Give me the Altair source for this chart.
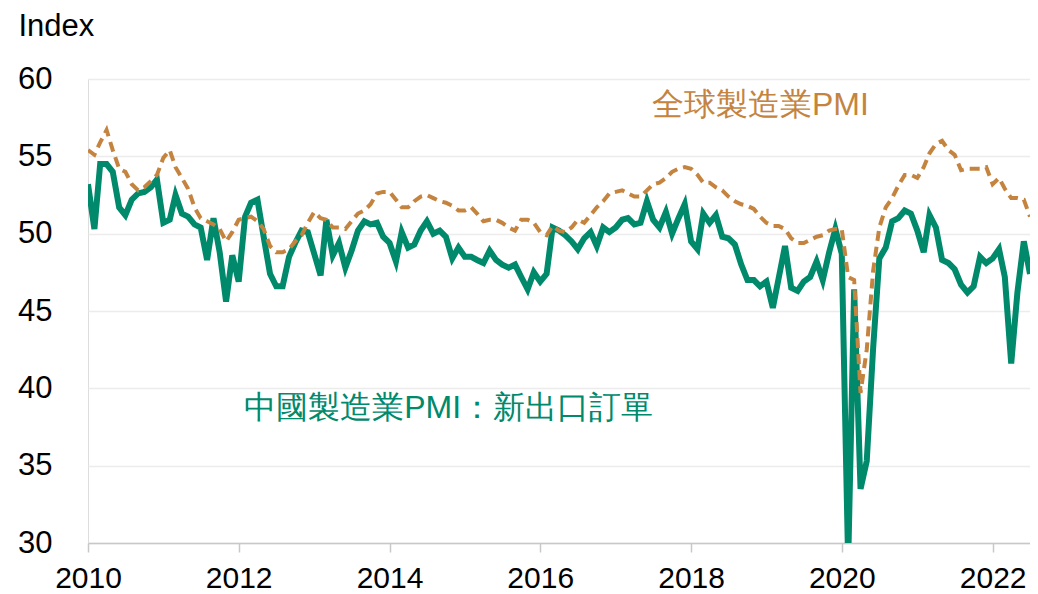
import altair as alt
import pandas as pd

# Monthly dates Jan 2010 .. Jul 2022
months = pd.date_range("2010-01-01", "2022-07-01", freq="MS").strftime("%Y-%m-%d").tolist()

# China manufacturing PMI: new export orders (green, solid)
china_2010 = [53.2, 50.3, 54.5, 54.5, 54.0, 51.7, 51.2, 52.2, 52.6, 52.7, 53.0, 53.5]
china_2011 = [50.7, 50.9, 52.5, 51.3, 51.1, 50.6, 50.4, 48.3, 51.0, 48.8, 45.6, 48.6]
china_2012 = [46.9, 51.1, 52.0, 52.2, 49.8, 47.4, 46.6, 46.6, 48.5, 49.4, 50.2, 50.1]
china_2013 = [48.7, 47.3, 50.9, 48.6, 49.4, 47.8, 48.9, 50.2, 50.8, 50.6, 50.7, 49.8]
china_2014 = [49.4, 48.2, 50.1, 49.1, 49.3, 50.2, 50.8, 50.0, 50.2, 49.8, 48.4, 49.1]
china_2015 = [48.5, 48.5, 48.3, 48.1, 48.9, 48.3, 48.0, 47.8, 48.0, 47.2, 46.4, 47.5]
china_2016 = [46.9, 47.4, 50.4, 50.2, 49.9, 49.5, 49.0, 49.7, 50.1, 49.2, 50.4, 50.1]
china_2017 = [50.4, 50.9, 51.0, 50.6, 50.7, 52.1, 50.9, 50.4, 51.4, 50.0, 51.0, 51.9]
china_2018 = [49.5, 49.0, 51.3, 50.7, 51.2, 49.8, 49.7, 49.3, 48.0, 47.0, 47.0, 46.6]
china_2019 = [46.9, 45.2, 47.1, 49.2, 46.5, 46.3, 46.9, 47.2, 48.2, 47.0, 48.8, 50.3]
china_2020 = [48.7, 28.7, 46.4, 33.5, 35.3, 42.6, 48.4, 49.1, 50.8, 51.0, 51.5, 51.3]
china_2021 = [50.2, 48.8, 51.2, 50.4, 48.3, 48.1, 47.7, 46.7, 46.2, 46.6, 48.5, 48.1]
china_2022 = [48.4, 49.0, 47.2, 41.6, 46.2, 49.5, 47.4]

# Global manufacturing PMI (orange, dashed)
global_2010 = [55.4, 55.1, 55.9, 56.7, 55.4, 54.2, 54.0, 53.2, 52.8, 53.0, 53.4, 53.8]
global_2011 = [54.9, 55.4, 54.3, 53.6, 52.9, 51.7, 51.0, 50.8, 50.6, 50.3, 49.5, 50.1]
global_2012 = [50.9, 51.0, 51.1, 50.8, 50.3, 49.2, 48.8, 48.8, 49.0, 49.5, 49.9, 50.7]
global_2013 = [51.4, 51.0, 50.9, 50.4, 50.4, 50.3, 50.8, 51.3, 51.5, 51.9, 52.6, 52.7]
global_2014 = [52.7, 52.2, 51.7, 51.7, 52.1, 52.4, 52.5, 52.3, 52.1, 52.0, 51.8, 51.5]
global_2015 = [51.5, 51.7, 51.3, 50.8, 50.9, 50.9, 50.7, 50.4, 50.2, 50.9, 50.9, 50.7]
global_2016 = [50.1, 49.9, 50.5, 50.2, 50.1, 50.4, 50.9, 50.7, 51.2, 51.7, 52.1, 52.6]
global_2017 = [52.7, 52.8, 52.6, 52.4, 52.4, 52.8, 53.2, 53.3, 53.6, 54.0, 54.2, 54.3]
global_2018 = [54.2, 53.8, 53.3, 53.3, 53.0, 52.8, 52.4, 52.1, 51.9, 51.8, 51.6, 51.1]
global_2019 = [50.7, 50.5, 50.5, 50.3, 49.7, 49.4, 49.4, 49.6, 49.8, 49.9, 50.2, 50.3]
global_2020 = [50.3, 47.2, 47.0, 39.7, 42.5, 47.6, 50.4, 51.7, 52.3, 53.1, 53.8, 53.8]
global_2021 = [53.6, 54.3, 55.2, 55.8, 56.0, 55.4, 55.1, 54.1, 54.2, 54.2, 54.2, 54.3]
global_2022 = [53.2, 53.6, 52.9, 52.3, 52.3, 52.2, 51.1]

china = (china_2010 + china_2011 + china_2012 + china_2013 + china_2014 + china_2015 +
         china_2016 + china_2017 + china_2018 + china_2019 + china_2020 + china_2021 + china_2022)
glob = (global_2010 + global_2011 + global_2012 + global_2013 + global_2014 + global_2015 +
        global_2016 + global_2017 + global_2018 + global_2019 + global_2020 + global_2021 + global_2022)

y_ticks = [30, 35, 40, 45, 50, 55, 60]
x_tick_years = [2010, 2012, 2014, 2016, 2018, 2020, 2022]

label_texts = ["全球製造業PMI", "中國製造業PMI：新出口訂單"]
label_dates = ["2017-06-25", "2012-01-28"]
label_values = [58.3, 38.7]
label_series = ["global", "china"]

GREEN = "#00896b"
ORANGE = "#c4843f"
FONT = "Liberation Sans"

df = pd.DataFrame({"date": months, "china": china, "global": glob})
labels = pd.DataFrame({"date": label_dates, "value": label_values,
                       "text": label_texts, "series": label_series})

x_enc = alt.X(
    "date:T",
    scale=alt.Scale(domain=[alt.DateTime(year=2010, month=1, date=1),
                            alt.DateTime(year=2022, month=7, date=1)]),
    axis=alt.Axis(
        format="%Y",
        values=[alt.DateTime(year=y, month=1, date=1) for y in x_tick_years],
        grid=False, labelFlush=False,
        domainColor="#c8c8c8", domainWidth=1.5,
        tickColor="#c8c8c8", tickWidth=1.5, tickSize=9,
        labelFontSize=30, labelColor="#000000", labelPadding=11,
        labelFont=FONT, title=None,
    ),
)

y_scale = alt.Scale(domain=[30, 60], nice=False, zero=False)

green_line = alt.Chart(df).mark_line(
    color=GREEN, strokeWidth=6, clip=True, strokeJoin="miter", strokeMiterLimit=4
).encode(
    x=x_enc,
    y=alt.Y(
        "china:Q",
        scale=y_scale,
        axis=alt.Axis(
            values=y_ticks,
            grid=True, gridColor="#ececec", gridWidth=1.5,
            domain=False, ticks=False, tickSize=0,
            labelFontSize=31, labelColor="#000000", labelPadding=36, labelFont=FONT,
            title="Index", titleAngle=0, titleAlign="left", titleBaseline="alphabetic",
            titleX=-70, titleY=-44, titleFontSize=31, titleFontWeight="normal",
            titleFont=FONT, titleColor="#000000",
        ),
    ),
)

orange_line = alt.Chart(df).mark_line(
    color=ORANGE, strokeWidth=4, strokeDash=[10, 6], clip=True
).encode(
    x="date:T",
    y=alt.Y("global:Q", scale=y_scale),
)

text_layer = alt.Chart(labels).mark_text(
    align="left", baseline="middle", fontSize=32, font=FONT
).encode(
    x="date:T",
    y=alt.Y("value:Q", scale=y_scale),
    text="text:N",
    color=alt.Color("series:N",
                    scale=alt.Scale(domain=["global", "china"], range=[ORANGE, GREEN]),
                    legend=None),
)

chart = alt.layer(green_line, orange_line, text_layer).properties(
    width=942,
    height=464,
    autosize=alt.AutoSizeParams(type="none"),
    padding={"left": 80, "top": 71, "right": 0, "bottom": 50},
).configure_view(stroke=None).configure(font=FONT)

chart.save("out.html", embed_options={"renderer": "svg", "actions": False})
